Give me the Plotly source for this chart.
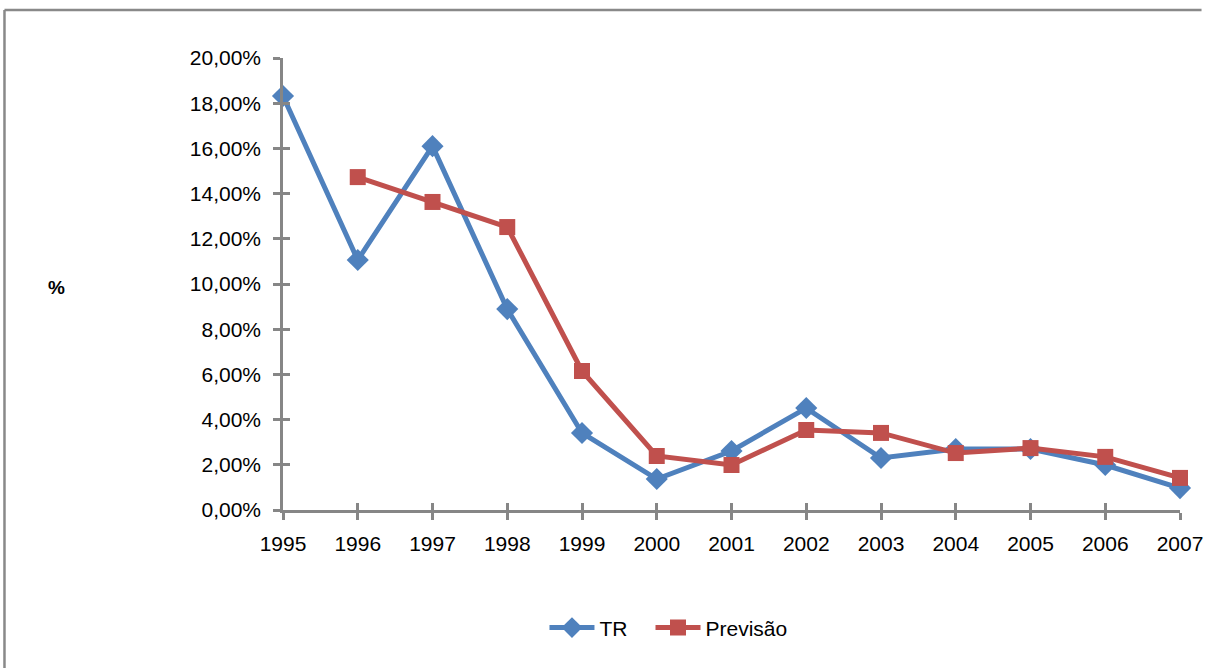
import plotly.graph_objects as go

# Annual series (fractions; axis formatted as percent)
years = [1995, 1996, 1997, 1998, 1999, 2000, 2001, 2002, 2003, 2004, 2005, 2006, 2007]
tr = [0.1832, 0.1106, 0.1610, 0.0889, 0.0341, 0.0137, 0.0261, 0.0451, 0.0230, 0.0270, 0.0270, 0.0199, 0.0097]
previsao = [None, 0.1473, 0.1363, 0.1252, 0.0615, 0.0239, 0.0199, 0.0354, 0.0341, 0.0252, 0.0274, 0.0235, 0.0142]
y_ticks = [0.00, 0.02, 0.04, 0.06, 0.08, 0.10, 0.12, 0.14, 0.16, 0.18, 0.20]
y_tick_text = ["0,00%", "2,00%", "4,00%", "6,00%", "8,00%", "10,00%",
               "12,00%", "14,00%", "16,00%", "18,00%", "20,00%"]

BLUE = "#4F81BD"
RED = "#C0504D"
AXIS = "#868686"
FRAME = "#898989"
FONT = "Liberation Sans, Arial, sans-serif"

fig = go.Figure()
fig.add_trace(go.Scatter(
    x=years, y=tr, name="TR", mode="lines+markers",
    line=dict(color=BLUE, width=5),
    marker=dict(symbol="diamond", size=17, color=BLUE),
    cliponaxis=False, legend="legend",
))
fig.add_trace(go.Scatter(
    x=years, y=previsao, name="Previsão", mode="lines+markers",
    line=dict(color=RED, width=5),
    marker=dict(symbol="square", size=16, color=RED),
    cliponaxis=False, legend="legend2",
))

tick_style = dict(showgrid=False, zeroline=False, tickcolor=AXIS, tickwidth=2.5, ticklen=7)
legend_style = dict(orientation="h", y=-0.261, xanchor="left", yanchor="middle",
                    font=dict(size=21), itemwidth=45, bgcolor="rgba(0,0,0,0)")

fig.update_layout(
    width=1208, height=668,
    margin=dict(l=283, r=28, t=58, b=158),
    paper_bgcolor="white", plot_bgcolor="white",
    font=dict(family=FONT, size=21, color="#000000"),
    showlegend=True,
    legend=dict(x=0.2915, **legend_style),
    legend2=dict(x=0.4097, **legend_style),
    xaxis=dict(range=[1995, 2007], tickvals=years, ticktext=[str(y) for y in years],
               showline=True, linecolor=AXIS, linewidth=2.5, automargin=False,
               ticklabeloverflow="allow",
               ticks="outside", ticklabelstandoff=6, **tick_style),
    yaxis=dict(range=[0, 0.20], tickvals=y_ticks, ticktext=y_tick_text,
               showline=True, linecolor=AXIS, linewidth=2.5, automargin=False,
               ticks="outside", ticklabelstandoff=8, **tick_style),
    # companion axes supply the inner half of the crossing tick marks
    xaxis2=dict(range=[1995, 2007], tickvals=years, showticklabels=False,
                overlaying="x", anchor="y", ticks="inside", showline=False, **tick_style),
    yaxis2=dict(range=[0, 0.20], tickvals=y_ticks, showticklabels=False,
                overlaying="y", anchor="x", ticks="inside", showline=False, **tick_style),
    annotations=[dict(text="<b>%</b>", xref="paper", yref="paper", x=-0.264, y=0.492,
                      showarrow=False, font=dict(size=19, family=FONT))],
    # chart frame: left and top edges
    shapes=[
        dict(type="line", xref="paper", yref="paper", x0=-0.3105, x1=-0.3105, y0=-0.6, y1=1.106,
             line=dict(color=FRAME, width=2.5), layer="below"),
        dict(type="line", xref="paper", yref="paper", x0=-0.3105, x1=1.024, y0=1.106, y1=1.106,
             line=dict(color=FRAME, width=2.5), layer="below"),
    ],
)
# invisible trace that places the companion axes
fig.add_trace(go.Scatter(x=[years[0]], y=[0], xaxis="x2", yaxis="y2", mode="markers",
                         marker=dict(opacity=0), showlegend=False, hoverinfo="skip"))

fig.write_html("out.html")
